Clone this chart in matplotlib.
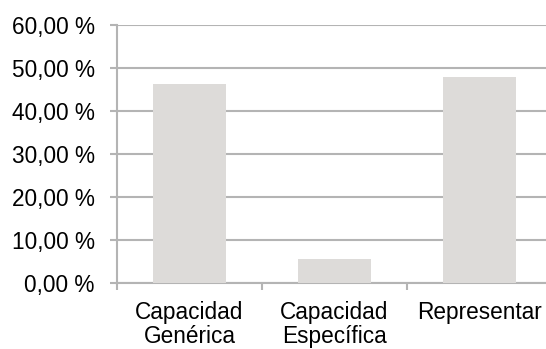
import matplotlib.pyplot as plt
import numpy as np

plt.rcParams['font.family'] = ['Liberation Sans', 'DejaVu Sans']

categorias = ["Capacidad\nGenérica", "Capacidad\nEspecífica", "Representar"]
valores = [46.3, 5.6, 47.9]
yticks = [0, 10, 20, 30, 40, 50, 60]

fig = plt.figure(figsize=(5.46, 3.49), dpi=100)
ax = fig.add_axes([117/546, 1 - 283/349, 435/546, 258/349])

x = np.arange(len(categorias))
ax.bar(x, valores, width=0.5, color="#dddbd9", zorder=3)

ax.set_xlim(-0.5, 2.5)
ax.set_ylim(0, 60)
ax.set_yticks(yticks)
ax.set_yticklabels([f"{v:.2f}".replace(".", ",") + " %" for v in yticks], fontsize=16.3)
ax.yaxis.grid(True, color="#b4b4b4", linewidth=1.5, zorder=0)

ax.set_xticks(x)
ax.set_xticklabels(categorias, fontsize=16.3, linespacing=1.05)
ax.set_xticks([-0.5, 0.5, 1.5], minor=True)
ax.tick_params(axis="x", which="major", length=0, pad=13)
ax.tick_params(axis="x", which="minor", length=5, width=1.5, color="#b4b4b4")
ax.tick_params(axis="y", length=5, width=1.5, color="#b4b4b4", pad=11)

for s in ["top", "right"]:
    ax.spines[s].set_visible(False)
for s in ["left", "bottom"]:
    ax.spines[s].set_color("#b4b4b4")
    ax.spines[s].set_linewidth(1.5)

fig.savefig("out.png", dpi=100)
